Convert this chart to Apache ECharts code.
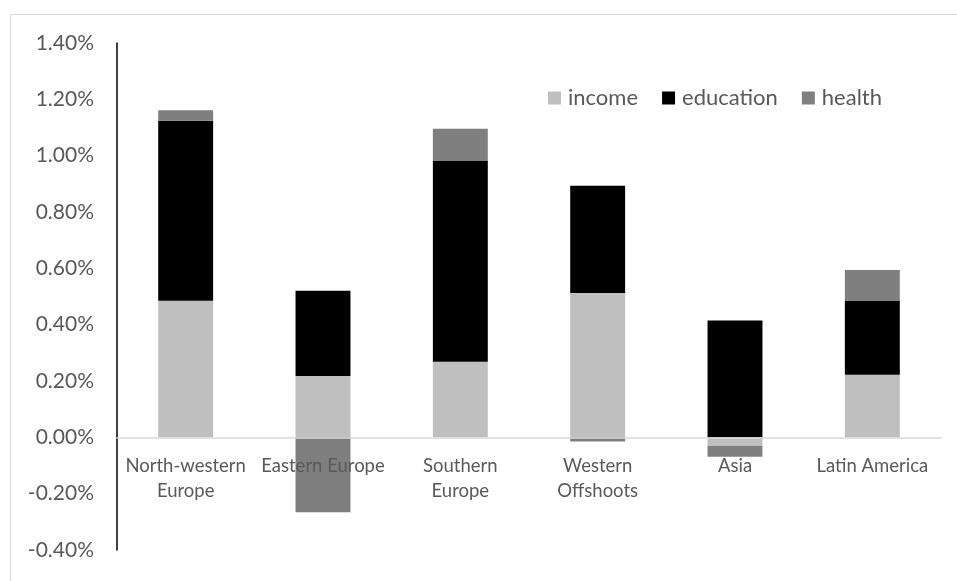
<!DOCTYPE html>
<html>
<head>
<meta charset="utf-8">
<script src="https://cdn.jsdelivr.net/npm/echarts@6/dist/echarts.min.js"></script>
<style>html,body{margin:0;padding:0;background:#fff}#c{width:957px;height:581px}</style>
</head>
<body>
<div id="c"></div>
<script>
const categories = ['North-western\nEurope', 'Eastern Europe', 'Southern\nEurope', 'Western\nOffshoots', 'Asia', 'Latin America'];
const income = [0.485, 0.218, 0.268, 0.512, -0.030, 0.222];
const education = [0.639, 0.302, 0.715, 0.381, 0.415, 0.264];
const health = [0.037, -0.266, 0.113, -0.015, -0.039, 0.108];
const yMin = -0.4, yMax = 1.4, yStep = 0.2;

const FONT = 'Lato';
const chart = echarts.init(document.getElementById('c'), null, {renderer: 'canvas'});
chart.setOption({
  animation: false,
  backgroundColor: '#fff',
  graphic: [{
    type: 'rect', shape: {x: 10.5, y: 14.5, width: 1000, height: 1000},
    style: {fill: null, stroke: '#D9D9D9', lineWidth: 1}, silent: true, z: -1
  }],
  grid: {left: 117, right: 16, top: 43, bottom: 31, containLabel: false, outerBoundsMode: 'none'},
  legend: {
    left: 548, top: 87, padding: 0, itemWidth: 13, itemHeight: 13, itemGap: 24,
    icon: 'rect',
    textStyle: {fontFamily: FONT, fontSize: 22, color: '#595959', padding: [0, 0, 0, 2]},
    data: ['income', 'education', 'health']
  },
  xAxis: {
    type: 'category', data: categories, z: 5,
    axisLine: {onZero: true, lineStyle: {color: '#D9D9D9', width: 1.5}},
    axisTick: {show: false},
    axisLabel: {fontFamily: FONT, fontSize: 18.5, color: '#595959', lineHeight: 25, margin: -96, interval: 0}
  },
  yAxis: {
    type: 'value', min: yMin, max: yMax, interval: yStep,
    axisLine: {show: true, lineStyle: {color: '#000', width: 1.5}},
    axisTick: {show: false},
    splitLine: {show: false},
    axisLabel: {fontFamily: FONT, fontSize: 21, color: '#595959', margin: 23,
      formatter: v => v.toFixed(2) + '%'}
  },
  series: [
    {name: 'income', type: 'bar', stack: 's', data: income, barWidth: '40%', itemStyle: {color: '#BFBFBF'}},
    {name: 'education', type: 'bar', stack: 's', data: education, barWidth: '40%', itemStyle: {color: '#000000'}},
    {name: 'health', type: 'bar', stack: 's', data: health, barWidth: '40%', itemStyle: {color: '#7F7F7F'}}
  ]
});
</script>
</body>
</html>
